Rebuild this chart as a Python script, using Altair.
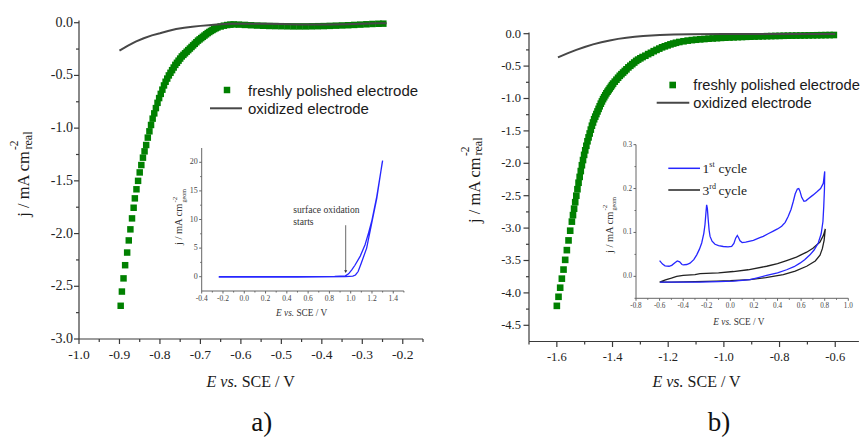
import altair as alt
import pandas as pd

# ---------------- data ----------------
# panel a : freshly polished electrode (E / V, j / mA cm-2)
A_FRESH = [
    (-0.897, -2.685), (-0.894, -2.55), (-0.890, -2.425), (-0.886, -2.30), (-0.881, -2.18),
    (-0.877, -2.065), (-0.873, -1.96), (-0.869, -1.856), (-0.865, -1.755), (-0.862, -1.666),
    (-0.858, -1.58), (-0.854, -1.50), (-0.850, -1.42), (-0.846, -1.35), (-0.842, -1.28),
    (-0.838, -1.22), (-0.834, -1.16), (-0.830, -1.09), (-0.826, -1.03), (-0.822, -0.97),
    (-0.818, -0.91), (-0.814, -0.86), (-0.810, -0.81), (-0.806, -0.76), (-0.802, -0.715),
    (-0.798, -0.675), (-0.794, -0.635), (-0.790, -0.595), (-0.786, -0.56), (-0.782, -0.53),
    (-0.778, -0.50), (-0.774, -0.475), (-0.770, -0.45), (-0.766, -0.425), (-0.762, -0.40),
    (-0.758, -0.38), (-0.754, -0.36), (-0.750, -0.34), (-0.746, -0.32), (-0.742, -0.305),
    (-0.738, -0.29), (-0.734, -0.275), (-0.730, -0.26), (-0.726, -0.245), (-0.722, -0.23),
    (-0.718, -0.215), (-0.714, -0.20), (-0.710, -0.185), (-0.706, -0.17), (-0.702, -0.158),
    (-0.698, -0.146), (-0.694, -0.134), (-0.690, -0.122), (-0.686, -0.11), (-0.682, -0.098),
    (-0.678, -0.088), (-0.674, -0.078), (-0.670, -0.069), (-0.666, -0.06), (-0.662, -0.052),
    (-0.658, -0.045), (-0.650, -0.036), (-0.642, -0.028), (-0.634, -0.022), (-0.626, -0.018),
    (-0.618, -0.016), (-0.605, -0.018), (-0.590, -0.021), (-0.575, -0.024), (-0.560, -0.027),
    (-0.545, -0.029), (-0.530, -0.031), (-0.515, -0.032), (-0.500, -0.033), (-0.485, -0.034),
    (-0.470, -0.035), (-0.455, -0.035), (-0.440, -0.035), (-0.425, -0.034), (-0.410, -0.033),
    (-0.395, -0.032), (-0.380, -0.030), (-0.365, -0.028), (-0.350, -0.026), (-0.335, -0.024),
    (-0.320, -0.021), (-0.305, -0.018), (-0.290, -0.015), (-0.275, -0.012), (-0.260, -0.010),
    (-0.248, -0.009),
]
# panel a : oxidized electrode
A_OX = [
    (-0.900, -0.265), (-0.880, -0.22), (-0.860, -0.18), (-0.840, -0.147), (-0.820, -0.12),
    (-0.800, -0.10), (-0.780, -0.078), (-0.760, -0.06), (-0.740, -0.048), (-0.720, -0.038),
    (-0.700, -0.030), (-0.680, -0.023), (-0.660, -0.017), (-0.640, -0.013), (-0.620, -0.011),
    (-0.580, -0.009), (-0.540, -0.010), (-0.500, -0.013), (-0.460, -0.016), (-0.420, -0.018),
    (-0.380, -0.017), (-0.340, -0.014), (-0.300, -0.010), (-0.260, -0.006), (-0.240, -0.005),
]
# panel a inset : CV up to 1.3 V (forward then reverse)
AI_CV = [
    (-0.24, 0.0), (0.2, 0.0), (0.6, 0.02), (0.85, 0.05), (0.95, 0.15), (0.98, 0.5),
    (1.01, 1.2), (1.04, 2.0), (1.09, 3.6), (1.135, 5.6), (1.17, 7.8), (1.20, 9.9),
    (1.245, 14.0), (1.30, 20.3),
    (1.295, 19.8), (1.245, 13.7), (1.20, 9.6), (1.15, 5.0), (1.10, 2.4), (1.07, 0.9),
    (1.045, 0.3), (1.02, 0.1), (0.95, 0.0), (0.5, -0.05), (-0.24, -0.05),
]
AI_ARROW_E = 0.953
AI_ARROW_TOP = 9.0
AI_ARROW_TIP = 0.9

# panel b : freshly polished electrode
B_FRESH = [
    (-1.600, -4.20), (-1.594, -4.06), (-1.588, -3.92), (-1.582, -3.78), (-1.576, -3.64),
    (-1.570, -3.49), (-1.564, -3.34), (-1.558, -3.19), (-1.552, -3.04), (-1.546, -2.90),
    (-1.542, -2.80), (-1.538, -2.70), (-1.534, -2.60), (-1.530, -2.50), (-1.526, -2.40),
    (-1.522, -2.30), (-1.518, -2.21), (-1.514, -2.12), (-1.510, -2.03), (-1.506, -1.95),
    (-1.502, -1.87), (-1.498, -1.80), (-1.494, -1.73), (-1.490, -1.66), (-1.486, -1.60),
    (-1.482, -1.54), (-1.478, -1.48), (-1.474, -1.42), (-1.470, -1.37), (-1.466, -1.32),
    (-1.462, -1.28), (-1.458, -1.24), (-1.454, -1.20), (-1.450, -1.16), (-1.446, -1.12),
    (-1.442, -1.08), (-1.438, -1.045), (-1.434, -1.01), (-1.430, -0.98), (-1.426, -0.95),
    (-1.422, -0.92), (-1.418, -0.895), (-1.414, -0.87), (-1.410, -0.845), (-1.406, -0.82),
    (-1.402, -0.795), (-1.398, -0.77), (-1.392, -0.74), (-1.386, -0.71), (-1.380, -0.68),
    (-1.374, -0.65), (-1.368, -0.625), (-1.362, -0.60), (-1.356, -0.575), (-1.350, -0.55),
    (-1.343, -0.52), (-1.336, -0.495), (-1.329, -0.47), (-1.322, -0.445), (-1.315, -0.42),
    (-1.308, -0.40), (-1.300, -0.38), (-1.292, -0.36), (-1.282, -0.34), (-1.272, -0.315),
    (-1.262, -0.295), (-1.252, -0.27), (-1.242, -0.25), (-1.232, -0.23), (-1.222, -0.21),
    (-1.212, -0.195), (-1.202, -0.18), (-1.192, -0.165), (-1.182, -0.152), (-1.172, -0.14),
    (-1.160, -0.128), (-1.145, -0.117), (-1.130, -0.107), (-1.115, -0.099), (-1.100, -0.093),
    (-1.085, -0.087), (-1.070, -0.082), (-1.055, -0.077), (-1.040, -0.073), (-1.025, -0.069),
    (-1.010, -0.065), (-0.995, -0.062), (-0.980, -0.059), (-0.965, -0.056), (-0.950, -0.053),
    (-0.935, -0.051), (-0.920, -0.048), (-0.905, -0.046), (-0.890, -0.044), (-0.875, -0.042),
    (-0.860, -0.040), (-0.845, -0.038), (-0.830, -0.037), (-0.815, -0.035), (-0.800, -0.034),
    (-0.785, -0.032), (-0.770, -0.031), (-0.755, -0.030), (-0.740, -0.029), (-0.725, -0.028),
    (-0.710, -0.027), (-0.695, -0.026), (-0.680, -0.025), (-0.665, -0.024), (-0.650, -0.023),
    (-0.635, -0.022), (-0.620, -0.021), (-0.605, -0.020),
]
# panel b : oxidized electrode
B_OX = [
    (-1.596, -0.365), (-1.560, -0.30), (-1.530, -0.25), (-1.500, -0.205), (-1.470, -0.165),
    (-1.440, -0.132), (-1.410, -0.104), (-1.380, -0.08), (-1.350, -0.061), (-1.320, -0.047),
    (-1.290, -0.035), (-1.260, -0.027), (-1.230, -0.020), (-1.180, -0.013), (-1.120, -0.009),
    (-1.000, -0.006), (-0.800, -0.004), (-0.600, -0.003),
]
# panel b inset : 1st cycle (blue) and 3rd cycle (black)
BI_CYCLE1 = [
    (-0.600, 0.036), (-0.575, 0.028), (-0.554, 0.024), (-0.520, 0.023), (-0.497, 0.025),
    (-0.470, 0.031), (-0.450, 0.035), (-0.430, 0.033), (-0.410, 0.027), (-0.399, 0.026),
    (-0.370, 0.027), (-0.342, 0.030), (-0.310, 0.038), (-0.285, 0.049), (-0.262, 0.062),
    (-0.243, 0.076), (-0.225, 0.098), (-0.215, 0.118), (-0.207, 0.145), (-0.201, 0.163),
    (-0.195, 0.155), (-0.188, 0.130), (-0.180, 0.105), (-0.172, 0.091), (-0.155, 0.080),
    (-0.130, 0.073), (-0.100, 0.070), (-0.060, 0.068), (-0.020, 0.067), (0.011, 0.068),
    (0.030, 0.075), (0.045, 0.087), (0.059, 0.093), (0.070, 0.088), (0.082, 0.081),
    (0.100, 0.077), (0.130, 0.078), (0.195, 0.082), (0.250, 0.088), (0.279, 0.091),
    (0.320, 0.097), (0.364, 0.103), (0.400, 0.108), (0.435, 0.114), (0.465, 0.123),
    (0.491, 0.137), (0.515, 0.153), (0.534, 0.171), (0.550, 0.188), (0.568, 0.199),
    (0.580, 0.200), (0.590, 0.194), (0.605, 0.180), (0.624, 0.171), (0.640, 0.172),
    (0.661, 0.177), (0.700, 0.185), (0.732, 0.192), (0.765, 0.200), (0.788, 0.212),
    (0.800, 0.239),
    (0.798, 0.200), (0.792, 0.160), (0.785, 0.125), (0.770, 0.097), (0.745, 0.076),
    (0.710, 0.060), (0.675, 0.049), (0.630, 0.038), (0.590, 0.030), (0.540, 0.022),
    (0.477, 0.015), (0.400, 0.008), (0.308, 0.002), (0.220, -0.004), (0.166, -0.0075),
    (0.100, -0.009), (0.025, -0.011), (-0.100, -0.012), (-0.257, -0.013), (-0.450, -0.013),
    (-0.597, -0.013),
]
BI_CYCLE3 = [
    (-0.600, -0.013), (-0.550, -0.008), (-0.500, -0.004), (-0.455, 0.000), (-0.400, 0.002),
    (-0.300, 0.004), (-0.257, 0.006), (-0.100, 0.008), (0.025, 0.011), (0.150, 0.015),
    (0.308, 0.023), (0.400, 0.029), (0.477, 0.036), (0.560, 0.044), (0.647, 0.055),
    (0.700, 0.064), (0.760, 0.078), (0.790, 0.094), (0.805, 0.108),
    (0.800, 0.095), (0.795, 0.082), (0.780, 0.063), (0.760, 0.048), (0.720, 0.035),
    (0.647, 0.023), (0.550, 0.012), (0.449, 0.004), (0.300, -0.003), (0.166, -0.0075),
    (0.000, -0.010), (-0.116, -0.011), (-0.300, -0.012), (-0.500, -0.013), (-0.600, -0.013),
]

# axis domains and tick values
A_XDOM = [-1.0, -0.15]
A_YDOM = [-3.0, 0.02]
A_XT = [-1.0, -0.9, -0.8, -0.7, -0.6, -0.5, -0.4, -0.3, -0.2]
A_XMINOR = [-0.95, -0.85, -0.75, -0.65, -0.55, -0.45, -0.35, -0.25, -0.15]
A_YT = [-3.0, -2.5, -2.0, -1.5, -1.0, -0.5, 0.0]
A_YMINOR = [-2.75, -2.25, -1.75, -1.25, -0.75, -0.25]
AI_XDOM = [-0.4, 1.5]
AI_YDOM = [-2.5, 22.5]
AI_XT = [-0.4, -0.2, 0.0, 0.2, 0.4, 0.6, 0.8, 1.0, 1.2, 1.4]
AI_XMINOR = [-0.3, -0.1, 0.1, 0.3, 0.5, 0.7, 0.9, 1.1, 1.3, 1.5]
AI_YT = [0, 5, 10, 15, 20]
AI_YMINOR = [2.5, 7.5, 12.5, 17.5]
B_XDOM = [-1.7, -0.515]
B_YDOM = [-4.75, 0.02]
B_XT = [-1.6, -1.4, -1.2, -1.0, -0.8, -0.6]
B_XMINOR = [-1.7, -1.5, -1.3, -1.1, -0.9, -0.7]
B_YT = [-4.5, -4.0, -3.5, -3.0, -2.5, -2.0, -1.5, -1.0, -0.5, 0.0]
B_YMINOR = [-4.25, -3.75, -3.25, -2.75, -2.25, -1.75, -1.25, -0.75, -0.25]
BI_XDOM = [-0.8, 1.0]
BI_YDOM = [-0.05, 0.30]
BI_XT = [-0.8, -0.6, -0.4, -0.2, 0.0, 0.2, 0.4, 0.6, 0.8, 1.0]
BI_XMINOR = [-0.7, -0.5, -0.3, -0.1, 0.1, 0.3, 0.5, 0.7, 0.9]
BI_YT = [0.0, 0.1, 0.2, 0.3]
BI_YMINOR = [-0.05, 0.05, 0.15, 0.25]

# ---------------- styling ----------------
SERIF = "Liberation Serif"
NUMF = "Liberation Serif"
SANS = "Liberation Sans"
AXC = "#3a3a3a"
INAXC = "#666666"
TXT = "#1a1a1a"
GREEN = "#008000"
GREYL = "#474747"
BLUE = "#2626ff"
BLACKL = "#222222"

ONE = pd.DataFrame({"k": [0]})


def pts(pairs):
    return pd.DataFrame(pairs, columns=["E", "j"])


def ordered(pairs):
    d = pts(pairs)
    d["i"] = range(len(d))
    return d


def fmt(v, dec):
    return ("-" if v < -1e-9 else "") + f"{abs(v):.{dec}f}"


def sc(domain, rng):
    return alt.Scale(domain=domain, range=rng, nice=False, zero=False)


def X(sx, f="E"):
    return alt.X(f"{f}:Q", scale=sx, axis=None)


def Y(sy, f="j"):
    return alt.Y(f"{f}:Q", scale=sy, axis=None)


def axes(sx, sy, xdom, ydom, xt, yt, xminor, yminor, x0, y0, tick, mtick,
         xsize, ysize, xpad, ypad, xdec, ydec, color, width, labcol):
    """Axis lines, ticks and labels drawn through the panel's own scales."""
    out = []
    out.append(alt.Chart(pd.DataFrame({"E": [xdom[0]], "E2": [xdom[1]], "j": [ydom[0]]}))
               .mark_rule(color=color, strokeWidth=width)
               .encode(x=X(sx), x2="E2:Q", y=Y(sy)))
    out.append(alt.Chart(pd.DataFrame({"E": [xdom[0]], "j": [ydom[0]], "j2": [ydom[1]]}))
               .mark_rule(color=color, strokeWidth=width)
               .encode(x=X(sx), y=Y(sy), y2="j2:Q"))
    out.append(alt.Chart(pd.DataFrame({"E": xt})).mark_rule(color=color, strokeWidth=width)
               .encode(x=X(sx), y=alt.value(y0), y2=alt.value(y0 + tick)))
    out.append(alt.Chart(pd.DataFrame({"E": xminor})).mark_rule(color=color, strokeWidth=width)
               .encode(x=X(sx), y=alt.value(y0), y2=alt.value(y0 + mtick)))
    out.append(alt.Chart(pd.DataFrame({"j": yt})).mark_rule(color=color, strokeWidth=width)
               .encode(y=Y(sy), x=alt.value(x0 - tick), x2=alt.value(x0)))
    out.append(alt.Chart(pd.DataFrame({"j": yminor})).mark_rule(color=color, strokeWidth=width)
               .encode(y=Y(sy), x=alt.value(x0 - mtick), x2=alt.value(x0)))
    out.append(alt.Chart(pd.DataFrame({"E": xt, "lab": [fmt(v, xdec) for v in xt]}))
               .mark_text(font=NUMF, fontSize=xsize, color=labcol, align="center", baseline="top")
               .encode(x=X(sx), y=alt.value(y0 + tick + xpad), text="lab:N"))
    out.append(alt.Chart(pd.DataFrame({"j": yt, "lab": [fmt(v, ydec) for v in yt]}))
               .mark_text(font=NUMF, fontSize=ysize, color=labcol, align="right", baseline="middle")
               .encode(y=Y(sy), x=alt.value(x0 - tick - ypad), text="lab:N"))
    return out


def text(s, x, y, size, font=SERIF, style="normal", align="left", angle=0, color=TXT):
    return alt.Chart(ONE).mark_text(text=s, font=font, fontSize=size, fontStyle=style,
                                    align=align, baseline="alphabetic", angle=angle,
                                    color=color).encode(x=alt.value(x), y=alt.value(y))


def hline(x1, x2, y, color, w):
    return alt.Chart(ONE).mark_rule(color=color, strokeWidth=w).encode(
        x=alt.value(x1), x2=alt.value(x2), y=alt.value(y))


# ---------------- panel a ----------------
sxA = sc(A_XDOM, [79, 423])
syA = sc(A_YDOM, [339, 20.6])
A_pts = alt.Chart(pts(A_FRESH)).mark_square(size=42, color=GREEN, opacity=1).encode(x=X(sxA), y=Y(syA))
A_line = alt.Chart(pts(A_OX)).mark_line(color=GREYL, strokeWidth=2).encode(x=X(sxA), y=Y(syA))
A_main = alt.layer(A_pts, A_line,
                   *axes(sxA, syA, A_XDOM, A_YDOM, A_XT, A_YT, A_XMINOR, A_YMINOR, 79, 339,
                         5, 3, 13.5, 14, 3.5, 1, 1, 1, AXC, 1.2, "#222222"))

sxAi = sc(AI_XDOM, [201.7, 403.9])
syAi = sc(AI_YDOM, [291, 148])
Ai_line = alt.Chart(ordered(AI_CV)).mark_line(color=BLUE, strokeWidth=1.3).encode(
    x=X(sxAi), y=Y(syAi), order="i:Q")
Ai_arrow = alt.Chart(pd.DataFrame({"E": [AI_ARROW_E], "j": [AI_ARROW_TOP], "j2": [AI_ARROW_TIP]})).mark_rule(
    color="#444444", strokeWidth=0.8).encode(x=X(sxAi), y=Y(syAi), y2="j2:Q")
Ai_head = alt.Chart(pd.DataFrame({"E": [AI_ARROW_E], "j": [AI_ARROW_TIP]})).mark_point(
    shape="triangle-down", filled=True, size=10, color="#333333", opacity=1).encode(x=X(sxAi), y=Y(syAi))
A_inset = alt.layer(Ai_line, Ai_arrow, Ai_head,
                    *axes(sxAi, syAi, AI_XDOM, AI_YDOM, AI_XT, AI_YT, AI_XMINOR, AI_YMINOR, 201.7, 291,
                          2.5, 1.5, 7.5, 8, 1.5, 1.5, 1, 0, INAXC, 1, "#444444"))

A_text = [
    alt.Chart(ONE).mark_square(size=42, color=GREEN, opacity=1).encode(x=alt.value(227), y=alt.value(90)),
    text("freshly polished electrode", 248, 96, 15, SANS),
    hline(210, 242, 108.3, GREYL, 2),
    text("oxidized electrode", 248, 114, 15, SANS),
    text("E vs.", 237.7, 386.7, 16, style="italic", align="right"),
    text("SCE / V", 241.7, 386.7, 16),
    text("j / mA cm", 29, 216.7, 16.5, angle=270),
    text("-2", 18, 150, 11.5, angle=270),
    text("real", 31.5, 149.5, 12, angle=270),
    text("a)", 261.7, 431, 27, align="center", color="#111111"),
    text("E vs.", 294.1, 316, 9.3, style="italic", align="right", color="#333333"),
    text("SCE / V", 296.4, 316, 9.3, color="#333333"),
    text("j / mA cm", 182, 245, 10.4, angle=270, color="#333333"),
    text("-2", 176.5, 202.5, 7, angle=270, color="#333333"),
    text("geom", 185.5, 202.5, 6, angle=270, color="#333333"),
    text("surface oxidation", 293.3, 212.7, 9.6, color="#333333"),
    text("starts", 293.3, 225, 9.6, color="#333333"),
]

# ---------------- panel b ----------------
sxB = sc(B_XDOM, [529, 858.9])
syB = sc(B_YDOM, [341.5, 32.4])
B_pts = alt.Chart(pts(B_FRESH)).mark_square(size=44, color=GREEN, opacity=1).encode(x=X(sxB), y=Y(syB))
B_line = alt.Chart(pts(B_OX)).mark_line(color=GREYL, strokeWidth=2).encode(x=X(sxB), y=Y(syB))
B_main = alt.layer(B_pts, B_line,
                   *axes(sxB, syB, B_XDOM, B_YDOM, B_XT, B_YT, B_XMINOR, B_YMINOR, 529, 341.5,
                         5.5, 3, 12.5, 12.5, 3.5, 2.5, 1, 1, AXC, 1.2, "#222222"))

sxBi = sc(BI_XDOM, [636, 848.3])
syBi = sc(BI_YDOM, [298.3, 144.65])
Bi_c1 = alt.Chart(ordered(BI_CYCLE1)).mark_line(color=BLUE, strokeWidth=1.3).encode(
    x=X(sxBi), y=Y(syBi), order="i:Q")
Bi_c3 = alt.Chart(ordered(BI_CYCLE3)).mark_line(color=BLACKL, strokeWidth=1.3).encode(
    x=X(sxBi), y=Y(syBi), order="i:Q")
B_inset = alt.layer(Bi_c3, Bi_c1,
                    *axes(sxBi, syBi, BI_XDOM, BI_YDOM, BI_XT, BI_YT, BI_XMINOR, BI_YMINOR, 636, 298.3,
                          2.5, 1.5, 7.2, 7.2, 1.5, 1.5, 1, 1, INAXC, 1, "#444444"))

B_text = [
    alt.Chart(ONE).mark_square(size=44, color=GREEN, opacity=1).encode(x=alt.value(672.7), y=alt.value(85)),
    text("freshly polished electrode", 693.3, 90, 14.7, SANS),
    hline(656.7, 689.3, 102.7, GREYL, 2),
    text("oxidized electrode", 693.3, 107.5, 14.7, SANS),
    text("E vs.", 683.6, 387.3, 16, style="italic", align="right"),
    text("SCE / V", 687.6, 387.3, 16),
    text("j / mA cm", 479.5, 223, 16.5, angle=270),
    text("-2", 469, 156, 11.5, angle=270),
    text("real", 482, 155.5, 12, angle=270),
    text("b)", 719, 431, 27, align="center", color="#111111"),
    hline(668.3, 700, 168.3, BLUE, 1.5),
    text("1", 702.5, 173, 13.5),
    text("st", 709.3, 167, 8),
    text("cycle", 718.5, 173, 13.5),
    hline(668.3, 700, 190, BLACKL, 1.5),
    text("3", 702.5, 195, 13.5),
    text("rd", 709.3, 189, 8),
    text("cycle", 718.5, 195, 13.5),
    text("E vs.", 731.4, 325, 9.3, style="italic", align="right", color="#333333"),
    text("SCE / V", 733.7, 325, 9.3, color="#333333"),
    text("j / mA cm", 612.5, 253, 10.4, angle=270, color="#333333"),
    text("-2", 607, 210.5, 7, angle=270, color="#333333"),
    text("geom", 615.5, 210.5, 6, angle=270, color="#333333"),
]

chart = alt.layer(A_main, A_inset, B_main, B_inset, *A_text, *B_text).resolve_scale(
    x="independent", y="independent").properties(
    width=861, height=439, padding=0, autosize="none", background="white").configure_view(stroke=None)

chart.save("out.html", embed_options={"renderer": "svg", "actions": False})
